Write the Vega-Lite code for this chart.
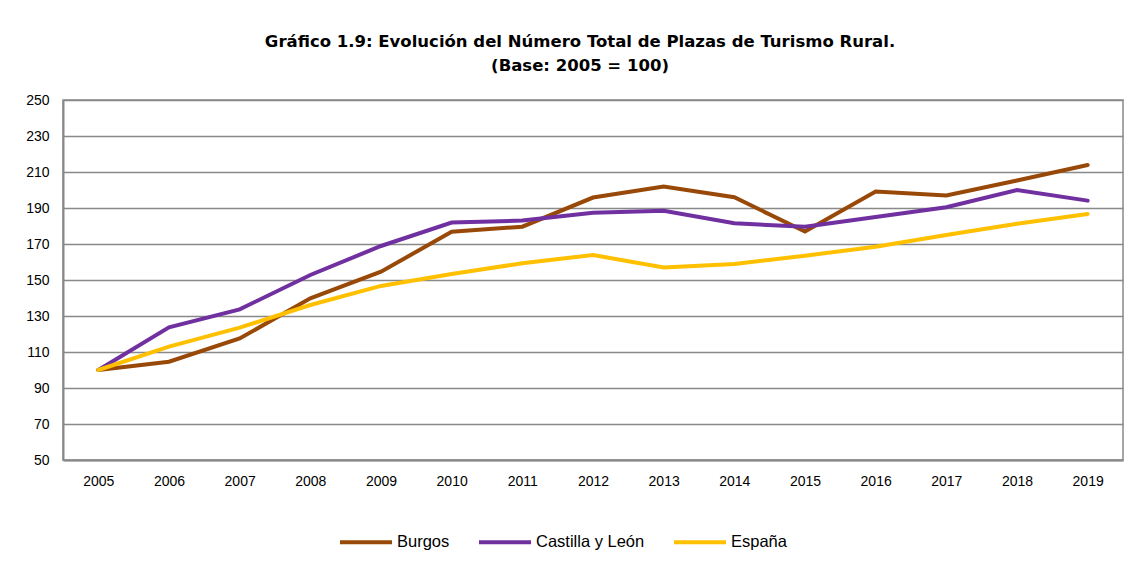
{
  "$schema": "https://vega.github.io/schema/vega-lite/v6.json",
  "width": 1060,
  "height": 360,
  "autosize": {"type": "none"},
  "padding": {"left": 63, "top": 100, "right": 18, "bottom": 106},
  "background": "white",
  "title": {
    "text": ["Gráfico 1.9: Evolución del Número Total de Plazas de Turismo Rural.", "(Base: 2005  = 100)"],
    "font": "DejaVu Sans",
    "fontSize": 16.5,
    "fontWeight": "bold",
    "color": "#000000",
    "anchor": "middle",
    "dx": -13,
    "lineHeight": 24,
    "offset": 19
  },
  "data": {
    "values": [
      {"year": "2005", "serie": "Burgos", "v": 100},
      {"year": "2006", "serie": "Burgos", "v": 104.6},
      {"year": "2007", "serie": "Burgos", "v": 117.5},
      {"year": "2008", "serie": "Burgos", "v": 139.8},
      {"year": "2009", "serie": "Burgos", "v": 154.6},
      {"year": "2010", "serie": "Burgos", "v": 176.8},
      {"year": "2011", "serie": "Burgos", "v": 179.6},
      {"year": "2012", "serie": "Burgos", "v": 195.8},
      {"year": "2013", "serie": "Burgos", "v": 201.9},
      {"year": "2014", "serie": "Burgos", "v": 196.0},
      {"year": "2015", "serie": "Burgos", "v": 176.9},
      {"year": "2016", "serie": "Burgos", "v": 199.1},
      {"year": "2017", "serie": "Burgos", "v": 196.9},
      {"year": "2018", "serie": "Burgos", "v": 205.3},
      {"year": "2019", "serie": "Burgos", "v": 213.9},
      {"year": "2005", "serie": "Castilla y León", "v": 100},
      {"year": "2006", "serie": "Castilla y León", "v": 123.7},
      {"year": "2007", "serie": "Castilla y León", "v": 133.7},
      {"year": "2008", "serie": "Castilla y León", "v": 152.8},
      {"year": "2009", "serie": "Castilla y León", "v": 168.9},
      {"year": "2010", "serie": "Castilla y León", "v": 181.9},
      {"year": "2011", "serie": "Castilla y León", "v": 183.0},
      {"year": "2012", "serie": "Castilla y León", "v": 187.4},
      {"year": "2013", "serie": "Castilla y León", "v": 188.5},
      {"year": "2014", "serie": "Castilla y León", "v": 181.5},
      {"year": "2015", "serie": "Castilla y León", "v": 179.6},
      {"year": "2016", "serie": "Castilla y León", "v": 185.0},
      {"year": "2017", "serie": "Castilla y León", "v": 190.4},
      {"year": "2018", "serie": "Castilla y León", "v": 200.0},
      {"year": "2019", "serie": "Castilla y León", "v": 194.1},
      {"year": "2005", "serie": "España", "v": 100},
      {"year": "2006", "serie": "España", "v": 113.0},
      {"year": "2007", "serie": "España", "v": 123.5},
      {"year": "2008", "serie": "España", "v": 136.1},
      {"year": "2009", "serie": "España", "v": 146.7},
      {"year": "2010", "serie": "España", "v": 153.3},
      {"year": "2011", "serie": "España", "v": 159.3},
      {"year": "2012", "serie": "España", "v": 163.9},
      {"year": "2013", "serie": "España", "v": 157.0},
      {"year": "2014", "serie": "España", "v": 158.9},
      {"year": "2015", "serie": "España", "v": 163.5},
      {"year": "2016", "serie": "España", "v": 168.5},
      {"year": "2017", "serie": "España", "v": 175.0},
      {"year": "2018", "serie": "España", "v": 181.3},
      {"year": "2019", "serie": "España", "v": 186.7}
    ]
  },
  "mark": {"type": "line", "strokeWidth": 4, "strokeCap": "round", "strokeJoin": "miter"},
  "encoding": {
    "x": {
      "field": "year",
      "type": "ordinal",
      "scale": {"type": "point", "padding": 0.5},
      "axis": {
        "title": null,
        "labelAngle": 0,
        "labelFont": "Liberation Sans",
        "labelFontSize": 14,
        "labelColor": "#000000",
        "labelPadding": 14,
        "ticks": false,
        "domainColor": "#898989",
        "domainWidth": 2,
        "grid": false
      }
    },
    "y": {
      "field": "v",
      "type": "quantitative",
      "scale": {"domain": [50, 250], "nice": false, "zero": false},
      "axis": {
        "title": null,
        "values": [50, 70, 90, 110, 130, 150, 170, 190, 210, 230, 250],
        "labelFont": "Liberation Sans",
        "labelFontSize": 14,
        "labelColor": "#000000",
        "labelPadding": 14,
        "ticks": false,
        "domainColor": "#898989",
        "domainWidth": 2,
        "grid": true,
        "gridColor": "#898989",
        "gridWidth": 1.5
      }
    },
    "color": {
      "field": "serie",
      "type": "nominal",
      "scale": {"domain": ["Burgos", "Castilla y León", "España"], "range": ["#984807", "#7030A0", "#FFC000"]},
      "legend": {
        "title": null,
        "orient": "none",
        "direction": "horizontal",
        "legendX": 275,
        "legendY": 414,
        "symbolType": "stroke",
        "symbolSize": 2704,
        "symbolStrokeWidth": 4,
        "labelFont": "Liberation Sans",
        "labelFontSize": 16.5,
        "labelColor": "#000000",
        "labelOffset": 3,
        "columnPadding": 21
      }
    }
  },
  "config": {
    "view": {"stroke": "#898989", "strokeWidth": 1.5}
  }
}
